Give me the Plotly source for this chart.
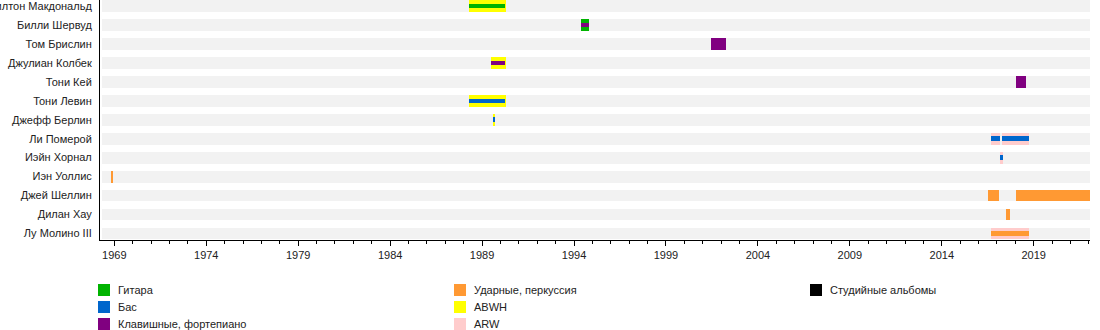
import plotly.graph_objects as go

members = ["Милтон Макдональд", "Билли Шервуд", "Том Брислин", "Джулиан Колбек",
           "Тони Кей", "Тони Левин", "Джефф Берлин", "Ли Померой", "Иэйн Хорнал",
           "Иэн Уоллис", "Джей Шеллин", "Дилан Хау", "Лу Молино III"]

# full-height periods: (member, start, end)
abwh_periods = [("Милтон Макдональд", 1988.3, 1990.3), ("Джулиан Колбек", 1989.47, 1990.3),
                ("Тони Левин", 1988.3, 1990.3), ("Джефф Берлин", 1989.6, 1989.68)]
arw_periods = [("Ли Померой", 2016.66, 2017.18), ("Ли Померой", 2017.25, 2018.76),
               ("Иэйн Хорнал", 2017.18, 2017.31), ("Лу Молино III", 2016.66, 2018.76)]
guitar_full = [("Билли Шервуд", 1994.38, 1994.81)]
keys_full = [("Том Брислин", 2001.45, 2002.27), ("Тони Кей", 2018.03, 2018.57)]
drums_full = [("Иэн Уоллис", 1968.87, 1968.93), ("Джей Шеллин", 2016.51, 2017.11),
              ("Джей Шеллин", 2018.03, 2022.1), ("Дилан Хау", 2017.49, 2017.71)]
# thin stripes
guitar_stripe = [("Милтон Макдональд", 1988.3, 1990.27)]
bass_stripe = [("Тони Левин", 1988.3, 1990.27), ("Джефф Берлин", 1989.6, 1989.68),
               ("Ли Померой", 2016.7, 2017.18), ("Ли Померой", 2017.25, 2018.73),
               ("Иэйн Хорнал", 2017.18, 2017.31)]
keys_stripe = [("Джулиан Колбек", 1989.5, 1990.27), ("Билли Шервуд", 1994.38, 1994.81)]
drums_stripe = [("Лу Молино III", 2016.7, 2018.73)]

timeline_start, timeline_end = 1968.35, 2022.07

legend_labels = ["Гитара", "Бас", "Клавишные, фортепиано",
                 "Ударные, перкуссия", "ABWH", "ARW", "Студийные альбомы"]
legend_colors = ["#00B300", "#0066CC", "#800080", "#FF9933", "#FFFF00", "#FFCCCC", "#000000"]
C = dict(zip(legend_labels, legend_colors))
GREY = "#F2F2F2"

FULL_W = 0.62
STRIPE_W = 0.23

fig = go.Figure()

def add(periods, color, width):
    if not periods:
        return
    fig.add_trace(go.Bar(
        y=[p[0] for p in periods], base=[p[1] for p in periods],
        x=[p[2] - p[1] for p in periods], orientation="h",
        marker=dict(color=color, line=dict(width=0)), width=width,
        showlegend=False, hoverinfo="skip"))

add([(m, timeline_start, timeline_end) for m in members], GREY, FULL_W)
add(abwh_periods, C["ABWH"], FULL_W)
add(arw_periods, C["ARW"], FULL_W)
add(guitar_full, C["Гитара"], FULL_W)
add(keys_full, C["Клавишные, фортепиано"], FULL_W)
add(drums_full, C["Ударные, перкуссия"], FULL_W)
add(guitar_stripe, C["Гитара"], STRIPE_W)
add(bass_stripe, C["Бас"], STRIPE_W)
add(keys_stripe, C["Клавишные, фортепиано"], STRIPE_W)
add(drums_stripe, C["Ударные, перкуссия"], STRIPE_W)

# manual legend (3 columns)
PLOT_L, PLOT_R, PLOT_B = 100, 1090, 240
col_x = [98, 454, 810]
row_y = [290, 307, 324]
layout_slots = [(0, 0), (0, 1), (0, 2), (1, 0), (1, 1), (1, 2), (2, 0)]
def px2x(px):
    return (px - PLOT_L) / (PLOT_R - PLOT_L)
def px2y(py):
    return (PLOT_B - py) / PLOT_B
shapes, annots = [], []
for lab, col, (c, r) in zip(legend_labels, legend_colors, layout_slots):
    x0 = col_x[c]; yc = row_y[r]
    shapes.append(dict(type="rect", xref="paper", yref="paper",
                       x0=px2x(x0), x1=px2x(x0 + 12), y0=px2y(yc + 6), y1=px2y(yc - 6),
                       fillcolor=col, line=dict(width=0)))
    annots.append(dict(xref="paper", yref="paper", x=px2x(x0 + 18), y=px2y(yc),
                       text=lab, showarrow=False, xanchor="left", yanchor="middle",
                       font=dict(size=11, color="#222")))

fig.update_layout(
    width=1100, height=330,
    margin=dict(l=PLOT_L, r=1100 - PLOT_R, t=0, b=330 - PLOT_B, pad=0),
    barmode="overlay", bargap=0,
    plot_bgcolor="white", paper_bgcolor="white",
    font=dict(family="Liberation Sans, Arial, sans-serif", size=11, color="#222"),
    shapes=shapes, annotations=annots,
    xaxis=dict(range=[1968.222, 2022.06], tick0=1969, dtick=5, ticks="outside", ticklen=5,
               tickcolor="black", showline=True, linecolor="black", linewidth=1,
               showgrid=False, zeroline=False, tickformat="d",
               minor=dict(dtick=1, tick0=1969, ticks="outside", ticklen=3, tickcolor="black"),
               automargin=False),
    yaxis=dict(categoryorder="array", categoryarray=members, range=[12.34, -0.306],
               showline=True, linecolor="black", linewidth=1, ticks="", showgrid=False,
               zeroline=False, ticklabelstandoff=5, automargin=False),
)

fig.write_html("out.html")
